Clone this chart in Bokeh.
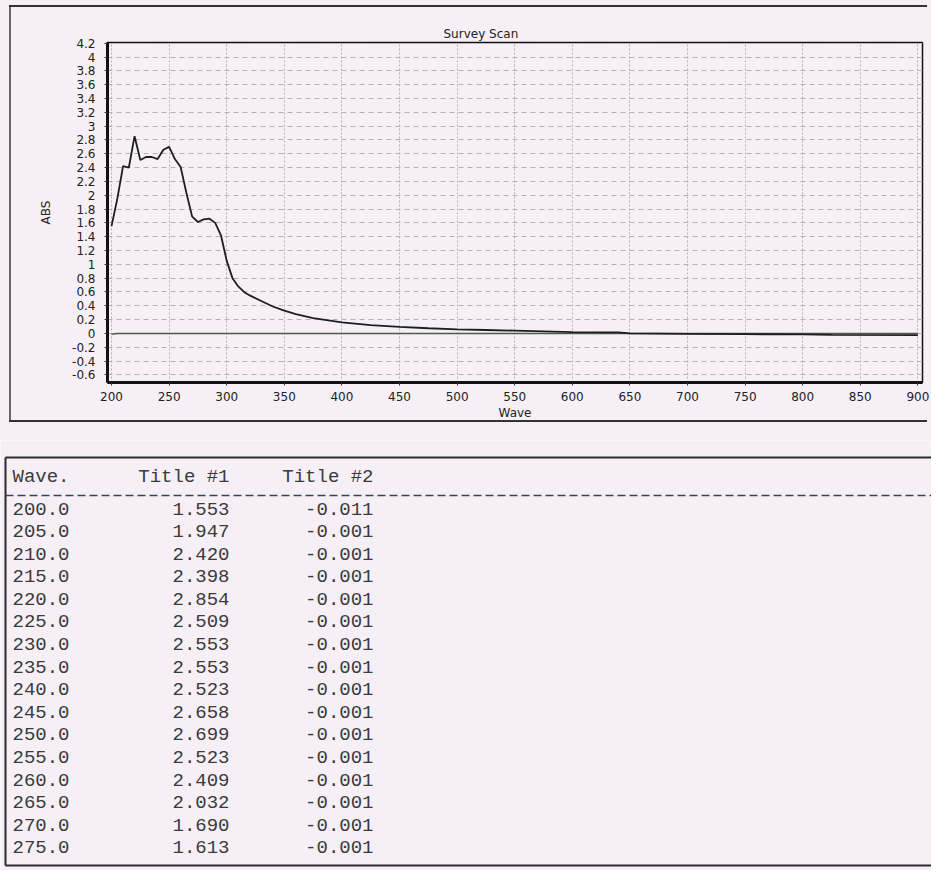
from bokeh.plotting import figure
from bokeh.models import Range1d, FixedTicker, ColumnDataSource
from bokeh.embed import file_html
from bokeh.resources import INLINE
from bokeh.core.properties import value

# ---- table data (printed listing) ----
table_wave = [200.0, 205.0, 210.0, 215.0, 220.0, 225.0, 230.0, 235.0,
              240.0, 245.0, 250.0, 255.0, 260.0, 265.0, 270.0, 275.0]
table_title1 = [1.553, 1.947, 2.420, 2.398, 2.854, 2.509, 2.553, 2.553,
                2.523, 2.658, 2.699, 2.523, 2.409, 2.032, 1.690, 1.613]
table_title2 = [-0.011, -0.001, -0.001, -0.001, -0.001, -0.001, -0.001, -0.001,
                -0.001, -0.001, -0.001, -0.001, -0.001, -0.001, -0.001, -0.001]

# ---- scan beyond the listing ----
scan_wave_ext = [280, 285, 290, 295, 300, 305, 310, 315, 320, 330, 340, 350,
                 360, 375, 400, 425, 450, 475, 500, 525, 550, 575, 600, 640,
                 650, 700, 750, 800, 825, 900]
scan_abs_ext = [1.65, 1.66, 1.60, 1.42, 1.05, 0.80, 0.68, 0.60, 0.55, 0.47, 0.39, 0.33,
                0.28, 0.22, 0.16, 0.12, 0.095, 0.075, 0.06, 0.05, 0.04, 0.03, 0.02, 0.015,
                0.0, -0.005, -0.01, -0.015, -0.02, -0.025]
baseline_wave_ext = [300, 400, 500, 600, 700, 800, 900]
baseline_abs_ext = [-0.001, -0.001, -0.001, -0.001, -0.001, -0.001, -0.001]

# ---- axes ----
x_ticks = [200, 250, 300, 350, 400, 450, 500, 550, 600, 650, 700, 750, 800, 850, 900]
y_ticks = [-0.6, -0.4, -0.2, 0.0, 0.2, 0.4, 0.6, 0.8, 1.0, 1.2, 1.4, 1.6, 1.8, 2.0,
           2.2, 2.4, 2.6, 2.8, 3.0, 3.2, 3.4, 3.6, 3.8, 4.0, 4.2]
y_tick_labels = ["-0.6", "-0.4", "-0.2", "0", "0.2", "0.4", "0.6", "0.8", "1", "1.2",
                 "1.4", "1.6", "1.8", "2", "2.2", "2.4", "2.6", "2.8", "3", "3.2",
                 "3.4", "3.6", "3.8", "4", "4.2"]

chart_title = "Survey Scan"
x_label = "Wave"
y_label = "ABS"
table_headers = ["Wave.", "Title #1", "Title #2"]

BG = "#f6f0f6"
W = 931
CH = 440
TH = 430

# ================= chart =================
p = figure(width=W, height=CH, output_backend="svg", toolbar_location=None,
           title=chart_title,
           x_range=Range1d(196.5, 904), y_range=Range1d(-0.71, 4.21),
           min_border_left=107, min_border_right=9, min_border_top=42,
           min_border_bottom=58)
p.background_fill_color = BG
p.border_fill_color = None
p.outline_line_color = "#111111"
p.outline_line_width = 1.5
# panel frame around the chart (top, left, bottom), drawn as inset shadows
p.styles = {
    "background-color": BG,
    "box-shadow": (f"inset -4px 0 0 0 {BG}, inset 0 5px 0 0 {BG}, inset 0 -18px 0 0 {BG}, "
                   f"inset 9px 0 0 0 {BG}, "
                   "inset 0 7px 0 0 #333333, inset 0 -20px 0 0 #333333, inset 11px 0 0 0 #666666"),
}

p.title.align = "left"
p.title.offset = 336
p.title.standoff = 3
p.title.text_font = "DejaVu Sans"
p.title.text_font_size = "12px"
p.title.text_font_style = "normal"
p.title.text_color = "#222222"

scan_x = table_wave + scan_wave_ext
scan_y = table_title1 + scan_abs_ext
base_x = table_wave + baseline_wave_ext
base_y = table_title2 + baseline_abs_ext

p.line(base_x, base_y, line_color="#4d5a4d", line_width=1.6)
p.line(scan_x, scan_y, line_color="#1e1e1e", line_width=1.8)

p.xaxis.ticker = FixedTicker(ticks=x_ticks)
p.yaxis.ticker = FixedTicker(ticks=y_ticks)
p.yaxis.major_label_overrides = {t: s for t, s in zip(y_ticks, y_tick_labels)}

for ax in (p.xaxis, p.yaxis):
    ax.axis_line_color = "#111111"
    ax.axis_line_width = 3
    ax.major_tick_in = 0
    ax.major_tick_out = 3
    ax.major_tick_line_color = "#333333"
    ax.minor_tick_line_color = None
    ax.major_label_text_font = "DejaVu Sans"
    ax.major_label_text_font_size = "12px"
    ax.major_label_text_color = "#222222"
    ax.axis_label_text_font = "DejaVu Sans"
    ax.axis_label_text_font_size = "12px"
    ax.axis_label_text_font_style = "normal"
    ax.axis_label_text_color = "#222222"

p.xaxis.axis_label = x_label
p.yaxis.axis_label = y_label
p.xaxis.major_label_standoff = 6
p.yaxis.major_label_standoff = 9
p.xaxis.axis_label_standoff = 2
p.yaxis.axis_label_standoff = 16

p.xgrid.grid_line_color = "#b4b0b4"
p.xgrid.grid_line_dash = "2 2"
p.ygrid.grid_line_color = "#b4b0b4"
p.ygrid.grid_line_dash = "5 4"

# ================= table =================
t = figure(width=W, height=TH, output_backend="svg", toolbar_location=None,
           x_range=Range1d(0, W), y_range=Range1d(16.018, -3.009),
           min_border=0)
t.background_fill_color = BG
t.border_fill_color = BG
t.outline_line_color = None
t.axis.visible = False
t.grid.visible = False

# frame of the listing
t.multi_line(xs=[[5, W], [5, 5], [5, W]],
             ys=[[-2.257, -2.257], [-2.257, 15.80], [15.80, 15.80]],
             line_color="#2a2a2a", line_width=2)
# dashed separator
t.line([5, W], [-0.575, -0.575], line_color="#3c4252", line_width=1.5, line_dash="8 4")

rows = list(range(len(table_wave)))
src = ColumnDataSource(dict(
    row=rows,
    wave=[f"{w:.1f}" for w in table_wave],
    t1=[f"{v:.3f}" for v in table_title1],
    t2=[f"{v:.3f}" for v in table_title2],
))

font = value("Liberation Mono")
common = dict(text_font=font, text_font_size="19px", text_baseline="middle",
              text_color="#3a3a3a")
header_row = -1.416
t.text(x=[12], y=[header_row], text=[table_headers[0]], text_align="left", **common)
t.text(x=[229], y=[header_row], text=[table_headers[1]], text_align="right", **common)
t.text(x=[373], y=[header_row], text=[table_headers[2]], text_align="right", **common)

t.text(x=12, y="row", text="wave", source=src, text_align="left", **common)
t.text(x=229, y="row", text="t1", source=src, text_align="right", **common)
t.text(x=373, y="row", text="t2", source=src, text_align="right", **common)

open("out.html", "w").write(file_html([p, t], INLINE))
